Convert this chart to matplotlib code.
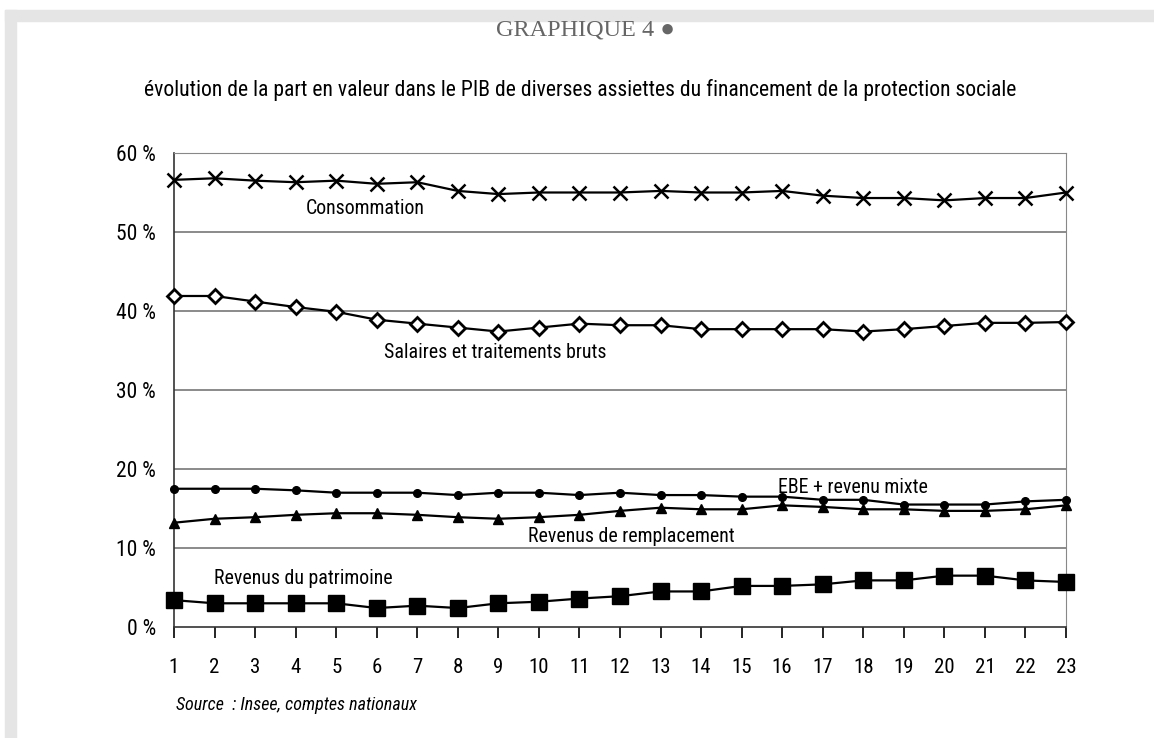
import matplotlib
matplotlib.use("Agg")
import matplotlib.pyplot as plt
from matplotlib.patches import Rectangle

plt.rcParams['font.family'] = ['Liberation Sans Narrow', 'Roboto Condensed', 'DejaVu Sans Condensed',
                               'Liberation Sans', 'DejaVu Sans']
plt.rcParams['font.stretch'] = 'condensed'

# Years (rank) and shares of GDP, in %
annees = list(range(1, 24))
consommation = [56.6, 56.8, 56.5, 56.3, 56.5, 56.1, 56.3, 55.2, 54.8, 55.0, 55.0, 55.0,
                55.2, 55.0, 55.0, 55.2, 54.6, 54.3, 54.3, 54.0, 54.3, 54.3, 55.0]
salaires = [41.9, 41.9, 41.2, 40.5, 39.9, 38.9, 38.4, 37.9, 37.4, 37.9, 38.4, 38.2,
            38.2, 37.7, 37.7, 37.7, 37.7, 37.4, 37.7, 38.1, 38.5, 38.5, 38.6]
ebe = [17.5, 17.5, 17.5, 17.3, 17.0, 17.0, 17.0, 16.7, 17.0, 17.0, 16.7, 17.0,
       16.7, 16.7, 16.5, 16.5, 16.1, 16.1, 15.5, 15.5, 15.5, 15.9, 16.1]
remplacement = [13.2, 13.7, 13.9, 14.2, 14.4, 14.4, 14.2, 13.9, 13.7, 13.9, 14.2, 14.7,
                15.1, 14.9, 14.9, 15.4, 15.2, 14.9, 14.9, 14.7, 14.7, 14.9, 15.4]
patrimoine = [3.4, 3.0, 3.0, 3.0, 3.0, 2.4, 2.7, 2.4, 3.0, 3.2, 3.6, 3.9,
              4.5, 4.5, 5.2, 5.2, 5.4, 5.9, 5.9, 6.5, 6.5, 5.9, 5.7]
yticks = [0, 10, 20, 30, 40, 50, 60]

fig = plt.figure(figsize=(11.54, 7.38), dpi=100)

# light grey frame on top and left
fig.patches.append(Rectangle((5 / 1154, 0), 11 / 1154, 1 - 10 / 738, transform=fig.transFigure,
                             color='#e5e5e5', zorder=0))
fig.patches.append(Rectangle((5 / 1154, 1 - 21 / 738), 1, 11 / 738, transform=fig.transFigure,
                             color='#e5e5e5', zorder=0))

ax = fig.add_axes([174 / 1154, 111 / 738, 892 / 1154, 474 / 738])

lw = 1.6
ax.plot(annees, consommation, color='black', lw=lw, marker='x', ms=9.5, mew=1.8, clip_on=False, zorder=5)
ax.plot(annees, salaires, color='black', lw=lw, marker='D', ms=7.5, mew=2, mfc='white', clip_on=False, zorder=5)
ax.plot(annees, ebe, color='black', lw=lw, marker='o', ms=5.5, clip_on=False, zorder=5)
ax.plot(annees, remplacement, color='black', lw=lw, marker='^', ms=6.5, clip_on=False, zorder=5)
ax.plot(annees, patrimoine, color='black', lw=lw, marker='s', ms=12, clip_on=False, zorder=5)

ax.set_xlim(1, 23)
ax.set_ylim(0, 60)
ax.set_xticks(annees)
ax.set_yticks(yticks)
ax.set_yticklabels([f"{v} %" for v in yticks])
ax.tick_params(axis='y', length=0, labelsize=15.5, pad=13)
ax.tick_params(axis='x', length=8, width=1.2, direction='out', labelsize=15, pad=14)

for v in yticks[1:-1]:
    ax.axhline(v, color='#777777', lw=1.2, zorder=1)

ax.spines['left'].set_color('#333333')
ax.spines['left'].set_linewidth(1.2)
ax.spines['bottom'].set_color('#333333')
ax.spines['bottom'].set_linewidth(1.2)
ax.spines['top'].set_color('#888888')
ax.spines['right'].set_color('#888888')

# series labels
lab = 14.3
ax.text(5.71, 53.0, "Consommation", fontsize=lab, ha='center', va='center')
ax.text(8.92, 34.7, "Salaires et traitements bruts", fontsize=lab, ha='center', va='center')
ax.text(15.9, 17.7, "EBE + revenu mixte", fontsize=lab, ha='left', va='center')
ax.text(12.27, 11.4, "Revenus de remplacement", fontsize=lab, ha='center', va='center')
ax.text(4.2, 6.2, "Revenus du patrimoine", fontsize=lab, ha='center', va='center')

fig.text(585 / 1154, 1 - 30 / 738, "GRAPHIQUE 4 \u25cf", fontsize=17.5, color='#666666',
         family=['Liberation Serif', 'DejaVu Serif'], ha='center', va='center')
fig.text(580 / 1154, 1 - 90 / 738,
         "évolution de la part en valeur dans le PIB de diverses assiettes du financement de la protection sociale",
         fontsize=15.6, ha='center', va='center')
fig.text(176 / 1154, 1 - 705 / 738, "Source  : Insee, comptes nationaux", fontsize=13,
         style='italic', ha='left', va='center')

fig.savefig("out.png", dpi=100)
